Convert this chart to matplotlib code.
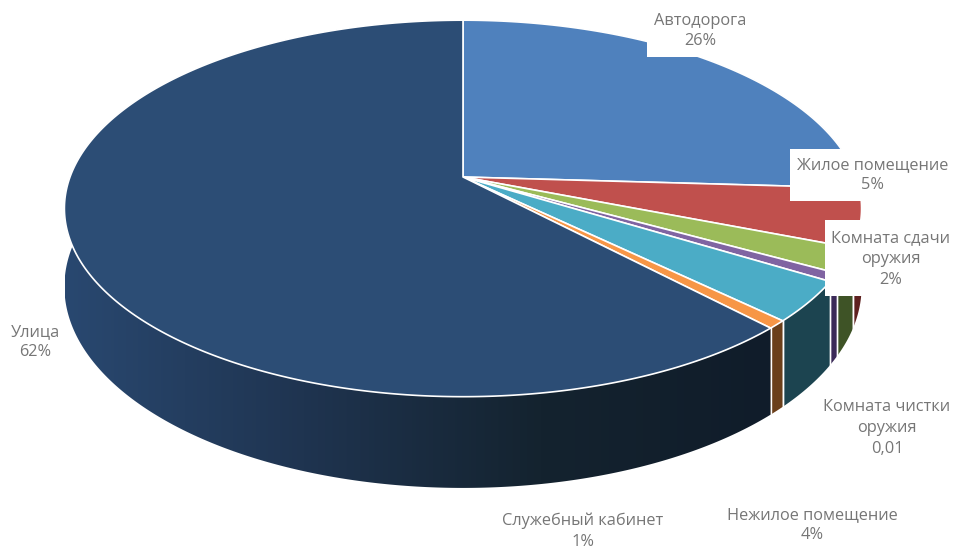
import numpy as np
import matplotlib
matplotlib.use('Agg')
import matplotlib.pyplot as plt
from matplotlib.colors import LinearSegmentedColormap
from matplotlib.patches import Polygon, Rectangle

categories = ['Автодорога', 'Жилое помещение', 'Комната сдачи\nоружия', 'Комната чистки\nоружия',
              'Нежилое помещение', 'Служебный кабинет', 'Улица']
values = [26, 5, 2.1, 0.7, 3.5, 0.7, 62.2]
value_labels = ['26%', '5%', '2%', '0,01', '4%', '1%', '62%']
top_colors = ['#4f81bd', '#c0504d', '#9bbb59', '#8064a2', '#4bacc6', '#f79646', '#2c4d75']
side_colors = ['#2f4d72', '#5e201f', '#3e5326', '#3b2a58', '#1c4450', '#6b3f1a', '#14222f']

CX, CY = 463, 177
RX, RY = 393, 183
K = 0.167
DEPTH = 76


def project(theta, lower=False):
    # theta is clockwise from the top of the disc
    u, v = np.sin(theta), np.cos(theta)
    w = 1 + K * v
    x = CX + RX * u / w
    y = CY - RY * v / w
    if lower:
        y = y + DEPTH / w
    return x, y


def wall_outline(a, b):
    th = np.linspace(a, b, max(int((b - a) * 90), 3))
    x0, y0 = project(th)
    x1, y1 = project(th[::-1], lower=True)
    return np.column_stack([np.r_[x0, x1], np.r_[y0, y1]])


fig = plt.figure(figsize=(9.54, 5.47), dpi=100)
ax = fig.add_axes([0, 0, 1, 1])

shares = np.array(values) / sum(values) * 2 * np.pi
edges = np.concatenate([[0], np.cumsum(shares)])

# side wall first, the top disc hides whatever is behind it
for i, col in enumerate(side_colors):
    outline = wall_outline(edges[i], edges[i + 1])
    if i == 6:
        # the long wall gets darker to the right
        cmap = LinearSegmentedColormap.from_list('wall', ['#294870', '#1f3450', '#14232f', '#101c2a'])
        im = ax.imshow(np.linspace(0, 1, 256)[None, :], extent=(65, 780, 547, 0), cmap=cmap, aspect='auto')
        clip = Polygon(outline, transform=ax.transData, fc='none', ec='none')
        ax.add_patch(clip)
        im.set_clip_path(clip)
    else:
        ax.add_patch(Polygon(outline, fc=col, ec='none'))
    if 0 < i < 6:
        for e in (edges[i], edges[i + 1]):
            xa, ya = project(e)
            xb, yb = project(e, lower=True)
            ax.plot([xa, xb], [ya, yb], color='white', lw=1)

ax.set_xlim(0, 954)
ax.set_ylim(547, 0)
ax.axis('off')

for i, col in enumerate(top_colors):
    th = np.linspace(edges[i], edges[i + 1], max(int(shares[i] * 90), 6))
    xs, ys = project(th)
    pts = [(CX, CY)] + list(zip(xs, ys))
    ax.add_patch(Polygon(pts, fc=col, ec='white', lw=1.2, joinstyle='round', zorder=2))

# white backgrounds behind some data labels
ax.add_patch(Rectangle((647, 0), 64, 57, fc='white', ec='none', zorder=3))
ax.add_patch(Rectangle((790, 149), 164, 52, fc='white', ec='none', zorder=3))
ax.add_patch(Rectangle((825, 220), 129, 76, fc='white', ec='none', zorder=3))

label_pos = [(700, 31), (873, 175), (891, 259), (887, 428), (812, 525), (583, 531), (35, 342)]
for name, val, (x, y) in zip(categories, value_labels, label_pos):
    ax.text(x, y, f'{name}\n{val}', ha='center', va='center', color='#767676',
            fontsize=11.8, family='Open Sans', linespacing=1.38, zorder=4)

fig.savefig('out.png', dpi=100)
